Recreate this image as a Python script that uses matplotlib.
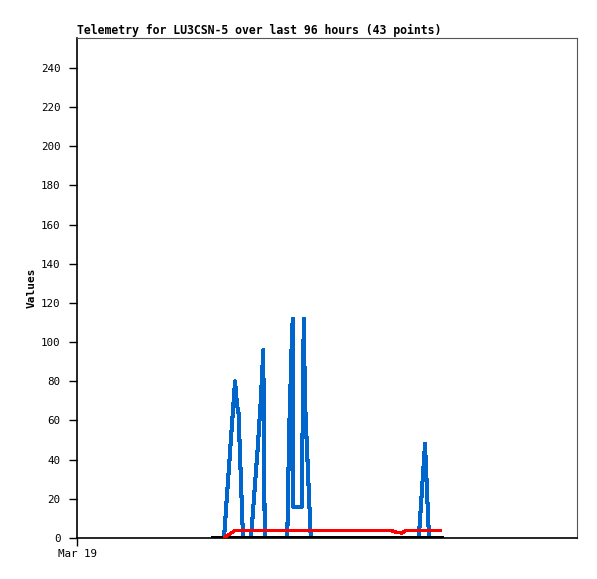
import matplotlib.pyplot as plt

# hours since Mar 19 00:00
blue_hours = [58.8, 63.2, 64.0, 64.6, 66.4, 69.6, 72.4, 73.6, 74.5, 75.1,
              84.1, 84.9, 85.9, 86.3, 86.5, 89.9, 90.7, 91.2, 93.5,
              136.7, 139.2, 140.8]
blue_values = [0, 80, 68, 64, 0, 0, 48, 72, 96, 0,
               0, 56, 100, 112, 16, 16, 112, 70, 0,
               0, 48, 0]

red_hours = [59.2, 61.0, 62.6, 63.0, 126.0, 128.0, 130.0, 131.5, 145.5]
red_values = [0.5, 2.0, 3.2, 3.7, 3.7, 2.8, 2.6, 3.7, 3.7]

black_hours = [54.4, 145.5]
black_values = [0, 0]

y_ticks = list(range(0, 241, 20))

fig = plt.figure(figsize=(5.97, 5.79), dpi=100)
ax = fig.add_axes([77/597, 41/579, 500/597, 500/579])

ax.plot(blue_hours, blue_values, color='#0066cc', lw=2.2, antialiased=False, zorder=2)
ax.plot(black_hours, black_values, color='black', lw=2.2, antialiased=False, zorder=3)
ax.plot(red_hours, red_values, color='#ff0000', lw=1.7, antialiased=False, zorder=4)

ax.set_xlim(0, 200)
ax.set_ylim(0, 255.3)
ax.set_yticks(y_ticks)
ax.set_yticklabels([str(v) for v in y_ticks], fontsize=7.8, family='DejaVu Sans Mono')
ax.set_xticks([0])
ax.set_xticklabels(['Mar 19'], fontsize=7.8, family='DejaVu Sans Mono')
ax.tick_params(axis='y', direction='out', length=6, width=1, color='black', pad=6)
ax.tick_params(axis='x', direction='out', length=6, width=1, color='black', pad=2)

for side in ['top', 'right']:
    ax.spines[side].set_color('#555555')
    ax.spines[side].set_linewidth(0.8)
for side in ['left', 'bottom']:
    ax.spines[side].set_color('black')
    ax.spines[side].set_linewidth(1.2)

ax.set_ylabel('Values', fontsize=8, fontweight='bold', family='DejaVu Sans Mono', labelpad=3)
ax.set_title('Telemetry for LU3CSN-5 over last 96 hours (43 points)', loc='left',
             fontsize=8.3, fontweight='bold', family='DejaVu Sans Mono', pad=3)

fig.savefig('out.png', dpi=100)
